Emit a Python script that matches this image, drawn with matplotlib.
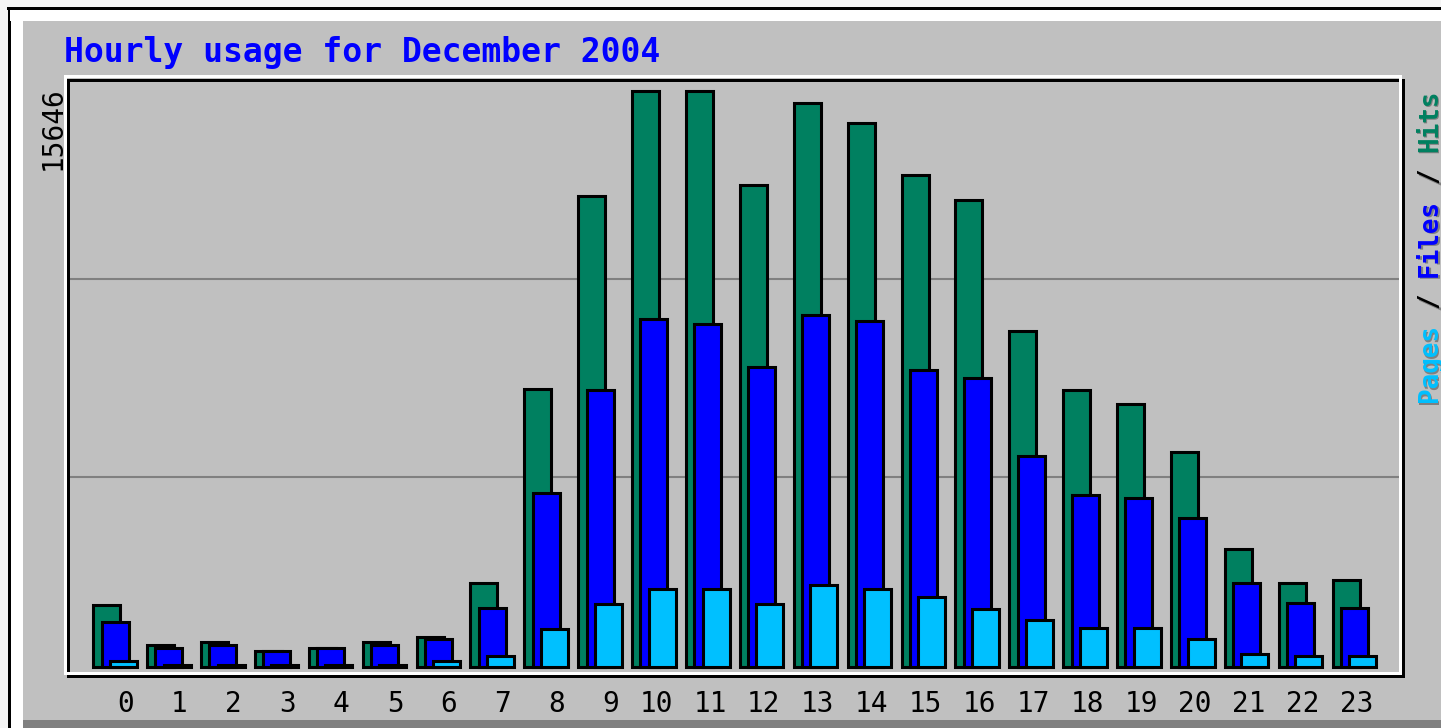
import numpy as np
import matplotlib
matplotlib.use("Agg")
import matplotlib.pyplot as plt
from matplotlib.patches import Rectangle
import matplotlib.transforms as mtrans

# data
hours = np.arange(24)
hour_labels = [str(h) for h in hours]
hits = [1694, 608, 689, 445, 527, 689, 825, 2291, 7538, 12796, 15646, 15646,
        13094, 15328, 14777, 13374, 12695, 9139, 7511, 7131, 5828, 3195, 2280, 2372]
files = [1232, 527, 608, 445, 527, 608, 771, 1612, 4742, 7530, 9457, 9329,
         8154, 9547, 9403, 8054, 7837, 5746, 4661, 4606, 4063, 2280, 1737, 1601]
pages = [155, 70, 70, 70, 70, 70, 155, 309, 1050, 1729, 2136, 2136,
         1729, 2218, 2136, 1892, 1593, 1287, 1069, 1069, 760, 364, 309, 309]
max_hits = 15646
grid_vals = [5163, 10551]

W, H = 1441, 728
GREEN = "#008060"
BLUE = "#0000ff"
CYAN = "#00c0ff"
PANEL = "#c0c0c0"

def fx(x):
    return x / W

def fy(y):
    return 1 - y / H

def prect(fig, x0, y0, x1, y1, **kw):
    # rectangle in pixel coords (top-left origin)
    r = Rectangle((fx(x0), fy(y1)), fx(x1) - fx(x0), fy(y0) - fy(y1),
                  transform=fig.transFigure, clip_on=False, **kw)
    fig.add_artist(r)
    return r

fig = plt.figure(figsize=(W / 100, H / 100), dpi=100, facecolor=PANEL)

# outer page border
prect(fig, 0, 0, W, 7, color="#f5f5f5", lw=0)
prect(fig, 0, 0, 8, H, color="#f5f5f5", lw=0)
prect(fig, 7, 7, W, 10, color="black", lw=0)
prect(fig, 8, 7, 11.5, H, color="black", lw=0)
prect(fig, 10, 10, W, 20.5, color="white", lw=0)
prect(fig, 11.5, 10, 22.5, H, color="white", lw=0)
prect(fig, 22.5, 720, W, H, color="#808080", lw=0)

# plot area (pixel box 66..1404 x 78..677)
ax = fig.add_axes([fx(66), fy(677), fx(1404) - fx(66), fy(78) - fy(677)])
ax.set_facecolor(PANEL)
for s in ax.spines.values():
    s.set_visible(False)

step = 53.89
ax.set_xlim((66 - 115) / step, (1404 - 115) / step)
yscale = max_hits / (667.2 - 90.8)
ax.set_ylim((667.2 - 677) * yscale, (667.2 - 78) * yscale)

for g in grid_vals:
    ax.axhline(g, color="#808080", lw=1.5, zorder=0)

off = 8.3 / step
bw = 27 / step
lw = 2.2
ax.bar(hours - off, hits, width=bw, color=GREEN, edgecolor="black", lw=lw, zorder=2)
ax.bar(hours, files, width=bw, color=BLUE, edgecolor="black", lw=lw, zorder=3)
ax.bar(hours + off, pages, width=bw, color=CYAN, edgecolor="black", lw=lw, zorder=4)

ax.set_yticks([])
ax.set_xticks(hours + 19 / step)
ax.set_xticklabels(hour_labels, ha="right", family="DejaVu Sans Mono", fontsize=20)
ax.tick_params(axis="x", length=0, pad=9)

# 3d frame around plot area
prect(fig, 67.5, 79.5, 1402.5, 675.5, fill=False, ec="black", lw=2.16)
prect(fig, 64.5, 76.5, 1399.5, 672.5, fill=False, ec="white", lw=2.16)

fig.text(fx(64), fy(62), "Hourly usage for December 2004", color=BLUE,
         family="DejaVu Sans Mono", weight="bold", fontsize=23.8,
         ha="left", va="baseline")

fig.text(fx(61), fy(170), str(max_hits), color="black", family="DejaVu Sans Mono",
         fontsize=20, rotation=90, rotation_mode="anchor", ha="left", va="baseline")

# legend text on the right, drawn in pieces with a grey shadow
leg_size = 18.7
adv = 0.602 * leg_size * 100 / 72  # monospace advance in px
legend_parts = [("Pages", 0, CYAN), ("/", 6, "black"), ("Files", 8, BLUE),
                ("/", 14, "black"), ("Hits", 16, GREEN)]
for txt, pos, col in legend_parts:
    for dx, dy, c in ((1.5, -1.5, "#808080"), (0, 0, col)):
        tr = mtrans.offset_copy(fig.transFigure, fig=fig, x=dx, y=dy + pos * adv,
                                units="dots")
        fig.text(fx(1437), fy(402), txt, color=c, transform=tr,
                 family="DejaVu Sans Mono", weight="bold", fontsize=leg_size,
                 rotation=90, rotation_mode="anchor", ha="left", va="baseline")

fig.savefig("out.png", dpi=100, facecolor=PANEL)
